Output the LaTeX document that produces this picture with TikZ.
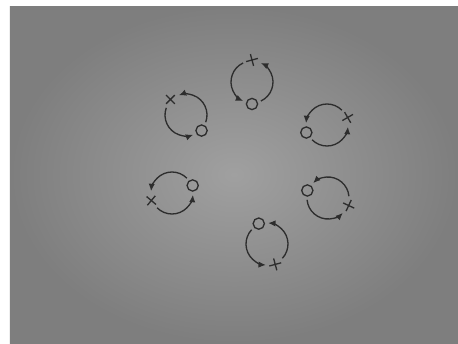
\documentclass[tikz,border=0pt]{standalone}
\usetikzlibrary{shapes.misc,arrows.meta,calc}
\definecolor{inkc}{RGB}{45,45,45}
\definecolor{paperin}{RGB}{160,160,160}
\definecolor{paperout}{RGB}{126,126,126}
\begin{document}
\begin{tikzpicture}[x=0.02cm,y=0.02cm,
  ink/.style={draw=inkc, line width=0.75pt},
  flow/.style={ink, -{Latex[length=4.2pt,width=3.6pt]}},
  ring/.style={ink, circle, minimum size=6.4pt, inner sep=0pt},
  xmark/.style={ink, cross out, minimum size=4.2pt, inner sep=0pt}]
\useasboundingbox (0,0) rectangle (458,343);
\fill[white] (0,0) rectangle (458,343);
\shade[inner color=paperin, outer color=paperout] (10,0) rectangle (458,337);
\foreach \i/\cx/\cy/\t/\xr in {1/252/261/90/60, 2/186/228/135/0, 3/327/218/20/75, 4/172/150/200/5, 5/328/145/340/20, 6/267/99/292/60} {
  \pgfmathsetmacro\ang{\t+180}
  \pgfmathsetmacro\aa{\t+25}
  \pgfmathsetmacro\ab{\t+155}
  \pgfmathsetmacro\ba{\t+205}
  \pgfmathsetmacro\bb{\t+335}
  \coordinate (c\i) at (\cx,\cy);
  \node[ring] (o\i) at ($(c\i)+(\ang:22)$) {};
  \node[xmark, rotate=\xr] (x\i) at ($(c\i)+(\t:22)$) {};
  \draw[flow] ($(c\i)+(\aa:21)$) arc[start angle=\aa, end angle=\ab, radius=21];
  \draw[flow] ($(c\i)+(\ba:21)$) arc[start angle=\ba, end angle=\bb, radius=21];
}
\end{tikzpicture}
\end{document}
